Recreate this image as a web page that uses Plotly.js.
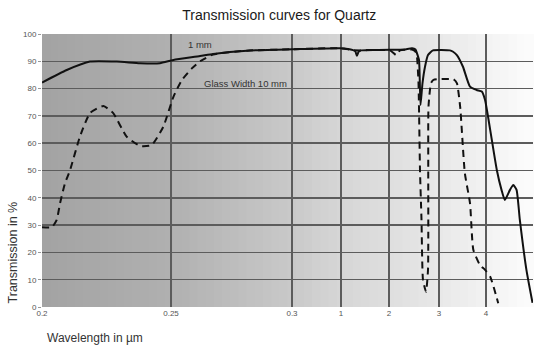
<!DOCTYPE html>
<html><head><meta charset="utf-8">
<script src="https://cdn.plot.ly/plotly-3.0.1.min.js"></script>
<style>html,body{margin:0;padding:0;background:#fff}#chart{width:535px;height:347px}</style>
</head><body><div id="chart"></div>
<script>
// ---- data (wavelength in µm, transmission in %) ----
const tickLabels = ["0.2","0.25","0.3","1","2","3","4","5"];
const tickWavelengths = [0.2,0.25,0.3,1,2,3,4,5];

const thinWl = [0.2,0.2096,0.2186,0.229,0.238,0.2457,0.251,0.262,0.2674,0.2814,0.3,0.986,1.25,1.3,1.33,1.37,1.42,1.54,2.02,2.3,2.46,2.53,2.56,2.6,2.63,2.67,2.72,2.78,2.88,3.23,3.3,3.38,3.51,3.66,3.8,3.91,3.98,4.09,4.23,4.33,4.4,4.51,4.58,4.65,4.72,4.86,4.99];
const thinT  = [82.2,86.8,89.9,89.9,89.3,89.3,90.5,91.9,92.7,93.9,94.4,94.8,94.1,93.6,92.0,93.6,94.0,94.1,94.2,94.3,94.8,94.3,92.9,90.5,74,82,88,92.3,94,94,93.5,92.3,88,80.7,79.5,78.9,75.8,64.8,50.2,42.9,39.2,42.9,44.7,42.9,31.9,13.6,1.5];

const thickWl = [0.2,0.2038,0.2057,0.207,0.2089,0.2109,0.2147,0.2186,0.2238,0.2276,0.2328,0.238,0.2425,0.247,0.251,0.2544,0.2586,0.262,0.2674,0.2814,0.3,0.986,1.25,1.42,2.02,2.14,2.18,2.22,2.46,2.53,2.56,2.59,2.62,2.65,2.68,2.74,2.78,2.785,2.79,2.84,2.89,3.31,3.38,3.45,3.55,3.66,3.73,3.87,3.98,4.09,4.26];
const thickT  = [29.2,29.2,31.9,38,45.3,50.2,62.4,71,73.6,71,62.4,59,59.3,66,77,83,87.4,90,92.5,93.9,94.4,94.8,94.1,94,94,92.3,93,94,94.3,93.5,91.5,82,50,31.9,9.9,5.6,13.6,50,73.4,82,83.2,83.4,82,73.4,49,38,21,15.4,13.6,11.1,1.4];

// ---- custom (non-uniform) axis scale: wavelength -> axis position ----
const tickPositions = [0,129,250,299,347,397,444,491];
function wlToPos(w){
  for(let i=0;i<tickWavelengths.length-1;i++){
    const a=tickWavelengths[i], b=tickWavelengths[i+1];
    if(w<=b || i===tickWavelengths.length-2){
      return tickPositions[i]+(w-a)/(b-a)*(tickPositions[i+1]-tickPositions[i]);
    }
  }
}

// ---- background gradient bands (styling) ----
const gStops=[[0,163],[0.26,176],[0.5,200],[0.6,213],[0.7,222],[0.8,231],[0.9,242],[1,252]];
function grayAt(f){
  for(let i=0;i<gStops.length-1;i++){
    if(f<=gStops[i+1][0]){const t=(f-gStops[i][0])/(gStops[i+1][0]-gStops[i][0]);return gStops[i][1]+t*(gStops[i+1][1]-gStops[i][1]);}
  }
  return 252;
}
const shapes=[];
const N=60;
for(let i=0;i<N;i++){
  const g=Math.round(grayAt((i+0.5)/N));
  shapes.push({type:'rect',xref:'x domain',yref:'y domain',x0:i/N,x1:(i+1)/N+0.002,y0:0,y1:1,
    fillcolor:`rgb(${g},${g},${g})`,line:{width:0},layer:'below'});
}

const traces=[
  {x:thickWl.map(wlToPos),y:thickT,mode:'lines',line:{color:'#111',width:2,dash:'7px,5px',shape:'spline',smoothing:0.5},hoverinfo:'skip'},
  {x:thinWl.map(wlToPos),y:thinT,mode:'lines',line:{color:'#111',width:2,shape:'spline',smoothing:0.5},hoverinfo:'skip'}
];

const layout={
  width:535,height:347,
  margin:{l:42,r:2,t:34,b:40},
  paper_bgcolor:'#fff',plot_bgcolor:'#fff',
  showlegend:false,
  font:{family:'Liberation Sans, Arial, sans-serif',color:'#444'},
  title:{text:'Transmission curves for Quartz',x:0.522,xanchor:'center',y:0.957,yanchor:'middle',yref:'container',font:{size:14,color:'#1a1a1a'}},
  xaxis:{range:[0,491],tickmode:'array',tickvals:tickWavelengths.map(wlToPos),ticktext:tickLabels,
    showgrid:true,gridcolor:'#5c5c5c',gridwidth:1.5,zeroline:false,showline:false,ticks:'',
    tickfont:{size:8,color:'#555'},fixedrange:true},
  yaxis:{range:[0,100],tickmode:'array',tickvals:[0,10,20,30,40,50,60,70,80,90,100],
    showgrid:true,gridcolor:'#5c5c5c',gridwidth:1.5,zeroline:false,showline:false,
    ticks:'outside',ticklen:3,tickcolor:'#999',tickfont:{size:8,color:'#555'},fixedrange:true},
  shapes:shapes,
  annotations:[
    {text:'1 mm',x:158,y:96,xref:'x',yref:'y',showarrow:false,font:{size:9.5,color:'#333'}},
    {text:'Glass Width 10 mm',x:203,y:81.7,xref:'x',yref:'y',showarrow:false,font:{size:9.5,color:'#333'}},
    {text:'Transmission in %',xref:'paper',yref:'paper',x:-0.059,xanchor:'center',y:0.2,yanchor:'middle',textangle:-90,showarrow:false,font:{size:12.5,color:'#333'}},
    {text:'Wavelength in µm',xref:'paper',yref:'paper',x:0.006,xanchor:'left',y:-0.1136,yanchor:'middle',showarrow:false,font:{size:12,color:'#333'}}
  ]
};
Plotly.newPlot('chart',traces,layout,{staticPlot:true,displayModeBar:false});
</script></body></html>
